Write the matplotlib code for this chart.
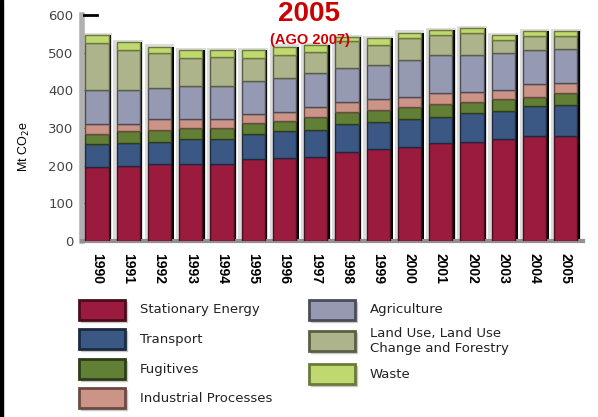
import matplotlib
matplotlib.use("Agg")
import matplotlib.pyplot as plt
from matplotlib.patches import Rectangle
import numpy as np

plt.rcParams["font.family"] = ["Liberation Sans", "DejaVu Sans"]

# Emissions by sector, Mt CO2e
years = [str(y) for y in range(1990, 2006)]
stationary = [197, 198, 204, 204, 204, 219, 220, 223, 237, 244, 250, 259, 263, 272, 278, 278]
transport = [60, 61, 59, 68, 68, 66, 73, 73, 73, 72, 75, 71, 76, 74, 80, 83]
fugitives = [28, 34, 33, 27, 28, 27, 26, 34, 33, 32, 31, 35, 31, 30, 25, 31]
industrial = [25, 18, 28, 25, 25, 24, 24, 26, 27, 29, 27, 27, 26, 26, 35, 28]
agriculture = [91, 90, 81, 87, 86, 90, 89, 89, 88, 90, 97, 102, 98, 98, 89, 91]
lulucf = [124, 106, 93, 76, 77, 59, 62, 58, 72, 53, 58, 53, 57, 34, 37, 33]
waste = [22, 20, 18, 20, 19, 22, 22, 17, 11, 18, 15, 13, 14, 13, 14, 14]

series = [stationary, transport, fugitives, industrial, agriculture, lulucf, waste]
colors = ["#9b1b3f", "#3b5783", "#627f36", "#cc9487", "#9599b1", "#adb38a", "#c0d870"]
edges = ["#4a0d1e", "#1c2a40", "#2e3c18", "#6a4a42", "#4a4c5a", "#5a5e44", "#6a7a38"]

W, H = 598, 417
fig = plt.figure(figsize=(W / 100, H / 100), dpi=100)
ax = fig.add_axes([82 / W, 1 - 241 / H, (583 - 82) / W, (241 - 15) / H])

x = np.arange(len(years))
totals = np.sum(series, axis=0)

# grey halo and dark shadow behind each stack
ax.bar(x, totals + 6, width=0.95, color="#dcdcdc", zorder=1)
ax.bar(x + 0.07, totals, width=0.77, color="black", zorder=2)

bottom = np.zeros(len(years))
for vals, c, e in zip(series, colors, edges):
    ax.bar(x, vals, bottom=bottom, width=0.74, color=c, edgecolor=e,
           linewidth=1.0, zorder=3)
    bottom += np.array(vals)

ax.set_xlim(-0.48, 15.55)
ax.set_ylim(0, 600)
ax.set_yticks(range(0, 601, 100))
ax.set_yticklabels([str(v) for v in range(0, 601, 100)], fontsize=9.5,
                   color="#444444", family="DejaVu Sans")
ax.set_xticks(x)
ax.set_xticklabels(years, rotation=270, fontsize=10, fontweight="bold")
ax.tick_params(axis="y", direction="in", length=3, color="black", pad=6)
ax.tick_params(axis="x", length=0, pad=9)
for s in ["top", "right"]:
    ax.spines[s].set_visible(False)
ax.spines["left"].set_color("#b0b0b0")
ax.spines["left"].set_linewidth(4)
ax.spines["bottom"].set_color("#909090")
ax.spines["bottom"].set_linewidth(3)
ax.plot([0.003, 0.03], [1, 1], transform=ax.transAxes, color="black",
        lw=2, clip_on=False, zorder=5)

fig.text(24 / W, 1 - 147 / H, "Mt CO$_2$e", rotation=90, fontsize=9,
         ha="center", va="center")

fig.text(309 / W, 1 - 14 / H, "2005", color="#cc0000", fontsize=20,
         fontweight="bold", ha="center", va="center")
fig.text(310 / W, 1 - 40 / H, "(AGO 2007)", color="#cc0000", fontsize=10.5,
         fontweight="bold", ha="center", va="center")

# legend drawn on a full-figure overlay in pixel coordinates
ov = fig.add_axes([0, 0, 1, 1])
ov.set_xlim(0, W)
ov.set_ylim(H, 0)
ov.axis("off")
ov.add_patch(Rectangle((0, 0), 2.5, H, color="black"))

labels = ["Stationary Energy", "Transport", "Fugitives", "Industrial Processes",
          "Agriculture", "Land Use, Land Use\nChange and Forestry", "Waste"]
spots = [(79, 310), (79, 339), (79, 369), (79, 398),
         (309, 310), (309, 341), (309, 374)]
for (px, py), lab, c, e in zip(spots, labels, colors, edges):
    ov.add_patch(Rectangle((px + 2, py - 8), 46, 20, color="#c8c8c8"))
    ov.add_patch(Rectangle((px, py - 10), 46, 20, facecolor=c, edgecolor=e,
                           linewidth=2))
    ov.text(px + 61, py, lab, fontsize=9.5, va="center", ha="left",
            color="#222222", linespacing=1.2, family="DejaVu Sans")

fig.savefig("out.png", dpi=100)
